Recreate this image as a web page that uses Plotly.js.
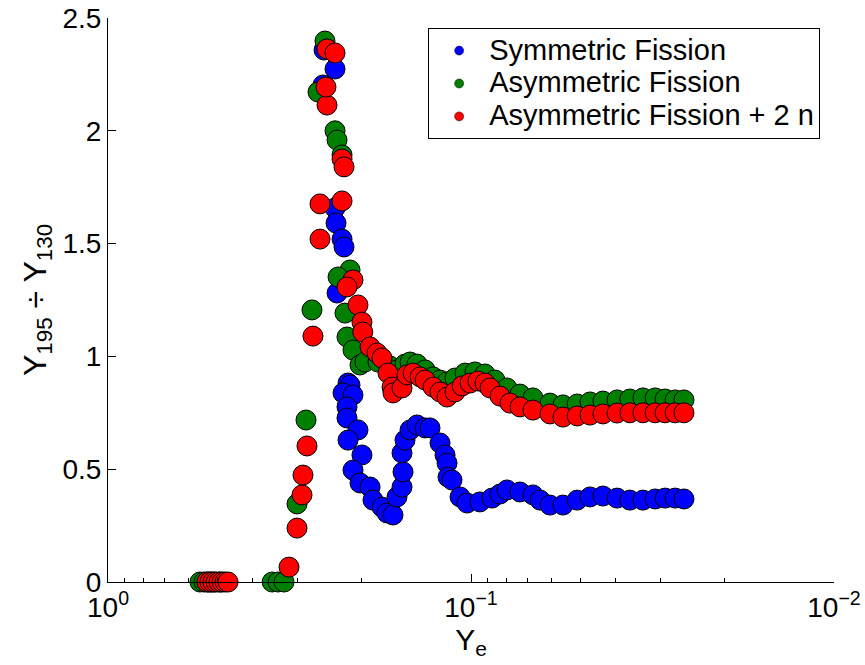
<!DOCTYPE html>
<html>
<head>
<meta charset="utf-8">
<script src="https://cdn.plot.ly/plotly-3.0.1.min.js"></script>
<style>html,body{margin:0;padding:0;background:#fff;}#chart{width:865px;height:665px;}</style>
</head>
<body>
<div id="chart"></div>
<script>
// Symmetric Fission
var symYe = [0.51, 0.49, 0.2540, 0.2557, 0.2369, 0.2369, 0.2354, 0.2266, 0.2238, 0.2339,
  0.2182, 0.2154, 0.2252, 0.2114, 0.2196, 0.2196, 0.2048, 0.2182, 0.1997, 0.2114,
  0.2022, 0.1897, 0.1862, 0.1759, 0.1703, 0.1640, 0.1599, 0.1549, 0.1539, 0.1549,
  0.1520, 0.1472, 0.1408, 0.1338, 0.1297, 0.1217, 0.1179, 0.1164, 0.1157, 0.1128,
  0.1072, 0.1025, 0.0945, 0.0875, 0.0832, 0.0796, 0.0733, 0.0675, 0.0645, 0.0606,
  0.0558, 0.0510, 0.0470, 0.0433, 0.0396, 0.0365, 0.0336, 0.0311, 0.0292, 0.0274, 0.0259];
var symRatio = [0, 0, 2.358, 2.203, 2.274, 1.658, 1.591, 1.520, 1.485, 1.281,
  0.882, 0.873, 0.838, 0.829, 0.776, 0.727, 0.674, 0.629, 0.563, 0.496,
  0.439, 0.421, 0.363, 0.332, 0.306, 0.297, 0.377, 0.421, 0.488, 0.572,
  0.629, 0.674, 0.696, 0.683, 0.683, 0.616, 0.563, 0.527, 0.465, 0.452,
  0.377, 0.350, 0.355, 0.372, 0.390, 0.408, 0.399, 0.386, 0.363, 0.341,
  0.341, 0.363, 0.377, 0.381, 0.372, 0.363, 0.363, 0.368, 0.372, 0.372, 0.368];

// Asymmetric Fission
var asymYe = [0.558, 0.544, 0.53, 0.52, 0.353, 0.340, 0.3274, 0.3015, 0.2848, 0.2742,
  0.2639, 0.2525, 0.2369, 0.2339, 0.2266, 0.2154, 0.2324, 0.2224, 0.2196, 0.2114,
  0.2022, 0.1959, 0.1804, 0.1671, 0.1599, 0.1520, 0.1472, 0.1408, 0.1338, 0.1272,
  0.1217, 0.1164, 0.1107, 0.1038, 0.0975, 0.0915, 0.0859, 0.0796, 0.0733, 0.0675,
  0.0606, 0.0558, 0.0510, 0.0470, 0.0433, 0.0396, 0.0365, 0.0336, 0.0311, 0.0292,
  0.0274, 0.0259];
var asymRatio = [0, 0, 0, 0, 0, 0, 0, 0.346, 0.718, 1.206,
  2.172, 2.398, 2.000, 1.959, 1.893, 1.383, 1.352, 1.192, 1.086, 1.028,
  0.962, 0.975, 0.975, 0.957, 0.940, 0.966, 0.975, 0.966, 0.940, 0.909,
  0.895, 0.887, 0.904, 0.926, 0.931, 0.922, 0.895, 0.860, 0.833, 0.816,
  0.793, 0.785, 0.789, 0.798, 0.802, 0.807, 0.811, 0.816, 0.816, 0.811,
  0.807, 0.807];

// Asymmetric Fission + 2 n
var asym2nYe = [0.534, 0.524, 0.514, 0.504, 0.4945, 0.485, 0.476, 0.467, 0.3172, 0.3015,
  0.2921, 0.2903, 0.2830, 0.2725, 0.2606, 0.2606, 0.2493, 0.2509, 0.2493, 0.2369,
  0.2266, 0.2266, 0.2238, 0.2114, 0.2196, 0.2048, 0.1997, 0.1987, 0.1897, 0.1815,
  0.1759, 0.1693, 0.1650, 0.1640, 0.1549, 0.1501, 0.1444, 0.1381, 0.1338, 0.1272,
  0.1217, 0.1164, 0.1107, 0.1058, 0.1006, 0.0957, 0.0915, 0.0886, 0.0832, 0.0781,
  0.0733, 0.0675, 0.0606, 0.0558, 0.0510, 0.0470, 0.0433, 0.0396, 0.0365, 0.0336,
  0.0311, 0.0292, 0.0274, 0.0259];
var asym2nRatio = [0, 0, 0, 0, 0, 0, 0, 0, 0.066, 0.239,
  0.386, 0.474, 0.603, 1.090, 1.520, 1.676, 2.114, 2.194, 2.363, 2.345,
  1.689, 1.875, 1.840, 1.339, 1.308, 1.228, 1.152, 1.108, 1.042, 1.015,
  0.993, 0.926, 0.864, 0.838, 0.860, 0.918, 0.926, 0.909, 0.895, 0.864,
  0.842, 0.820, 0.842, 0.869, 0.882, 0.891, 0.882, 0.860, 0.824, 0.793,
  0.776, 0.762, 0.745, 0.731, 0.736, 0.740, 0.745, 0.749, 0.750, 0.750,
  0.750, 0.750, 0.750, 0.750];

var seriesNames = ['Symmetric Fission', 'Asymmetric Fission', 'Asymmetric Fission + 2 n'];
var seriesColors = ['#0000ff', '#008000', '#ff0000'];
var xTickVals = [1, 0.1, 0.01];
var xTickText = ['10<sup>0</sup>', '10<sup>\u22121</sup>', '10<sup>\u22122</sup>'];
var xMinorVals = [0.9, 0.8, 0.7, 0.6, 0.5, 0.4, 0.3, 0.2, 0.09, 0.08, 0.07, 0.06, 0.05, 0.04, 0.03, 0.02];
var yTickVals = [0, 0.5, 1, 1.5, 2, 2.5];
var yTickText = ['0', '0.5', '1', '1.5', '2', '2.5'];

var xs = [symYe, asymYe, asym2nYe];
var ys = [symRatio, asymRatio, asym2nRatio];
var data = [];
for (var i = 0; i < 3; i++) {
  data.push({
    type: 'scatter', mode: 'markers', x: xs[i], y: ys[i], showlegend: false,
    cliponaxis: false, hoverinfo: 'skip',
    marker: {size: 20, color: seriesColors[i], line: {color: '#000', width: 1}}
  });
}
for (var j = 0; j < 3; j++) {
  data.push({
    type: 'scatter', mode: 'markers', x: [null], y: [null],
    name: '<span style="font-size:29px">' + seriesNames[j] + '</span>',
    marker: {size: 9, color: seriesColors[j], line: {color: '#000', width: 0.5}}
  });
}

var font = 'Liberation Sans, Arial, Helvetica, sans-serif';
var layout = {
  width: 865, height: 665,
  margin: {l: 108, r: 31, t: 18, b: 83},
  paper_bgcolor: '#fff', plot_bgcolor: '#fff',
  font: {family: font, color: '#000', size: 26},
  showlegend: true,
  legend: {
    x: 0.441, y: 0.982, xanchor: 'left', yanchor: 'top',
    bordercolor: '#000', borderwidth: 1, bgcolor: '#fff',
    font: {family: font, size: 23, color: '#000'},
    itemwidth: 50, tracegroupgap: 0
  },
  xaxis: {
    type: 'log', range: [0, -2], tickmode: 'array', tickvals: xTickVals, ticktext: xTickText,
    ticks: 'inside', ticklen: 8, tickwidth: 1, tickcolor: '#000',
    showline: true, linecolor: '#000', linewidth: 1, showgrid: false, zeroline: false,
    tickfont: {family: font, size: 28, color: '#000'},
    minor: {tickmode: 'array', tickvals: xMinorVals, ticks: 'inside', ticklen: 4, tickwidth: 1, tickcolor: '#000', showgrid: false},
    title: {text: 'Y<sub>e</sub>', font: {family: font, size: 30, color: '#000'}, standoff: 4}
  },
  yaxis: {
    range: [0, 2.5], tickmode: 'array', tickvals: yTickVals, ticktext: yTickText,
    ticks: 'inside', ticklen: 8, tickwidth: 1, tickcolor: '#000',
    showline: true, linecolor: '#000', linewidth: 1, showgrid: false, zeroline: false,
    tickfont: {family: font, size: 28, color: '#000'},
    title: {text: 'Y<sub>195</sub> \u00f7 Y<sub>130</sub>', font: {family: font, size: 32, color: '#000'}, standoff: 6}
  }
};

Plotly.newPlot('chart', data, layout, {staticPlot: true, displayModeBar: false});
</script>
</body>
</html>
